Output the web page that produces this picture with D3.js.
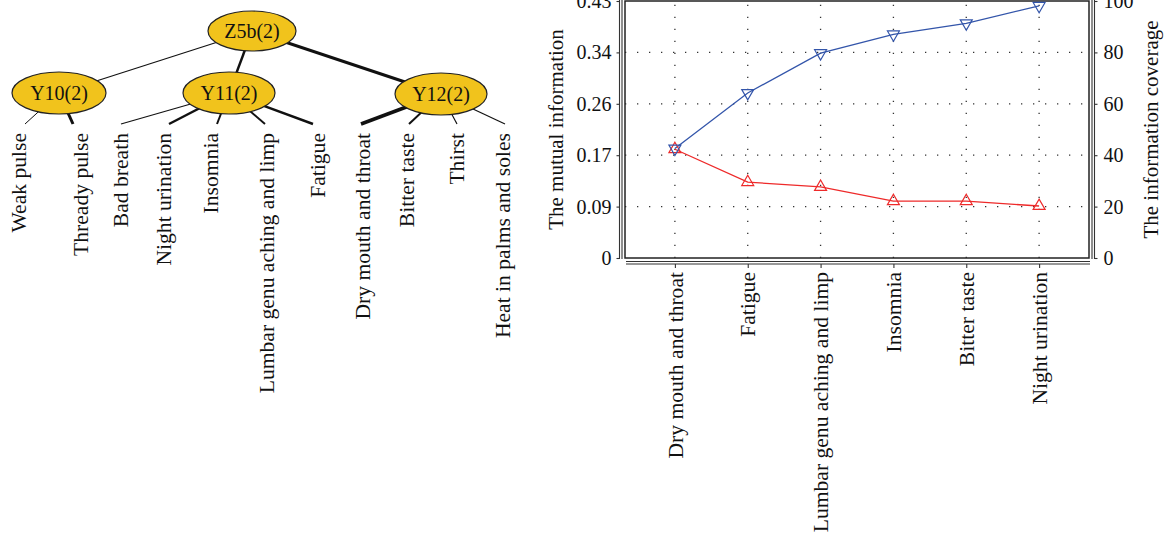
<!DOCTYPE html>
<html>
<head>
<meta charset="utf-8">
<script src="https://cdn.jsdelivr.net/npm/d3@7"></script>
<style>
  body { margin: 0; background: #fff; }
  svg text { font-family: "Liberation Serif", "DejaVu Serif", serif; fill: #111; }
</style>
</head>
<body>
<svg id="svg1" width="1164" height="534"></svg>
<script>
// --- data ---
const categories = ["Dry mouth and throat", "Fatigue", "Lumbar genu aching and limp",
                    "Insomnia", "Bitter taste", "Night urination"];
const mutualInfo = [0.182, 0.127, 0.119, 0.095, 0.095, 0.087];
const coverage = [42.6, 64.2, 79.7, 87.0, 91.3, 98.1];
const leftTicks = [0, 0.086, 0.172, 0.258, 0.344, 0.43];
const leftTickLabels = ["0", "0.09", "0.17", "0.26", "0.34", "0.43"];
const rightTicks = [0, 20, 40, 60, 80, 100];

// tree : latent variables and their manifest symptoms
const latentNodes = ["Z5b(2)", "Y10(2)", "Y11(2)", "Y12(2)"];
const latentParent = [null, "Z5b(2)", "Z5b(2)", "Z5b(2)"];
const leaves = ["Weak pulse", "Thready pulse", "Bad breath", "Night urination", "Insomnia",
                "Lumbar genu aching and limp", "Fatigue", "Dry mouth and throat",
                "Bitter taste", "Thirst", "Heat in palms and soles"];
const leafParent = ["Y10(2)", "Y10(2)", "Y11(2)", "Y11(2)", "Y11(2)", "Y11(2)", "Y11(2)",
                    "Y12(2)", "Y12(2)", "Y12(2)", "Y12(2)"];

// --- layout / style ---
const nodePos = {"Z5b(2)": [252, 31, 44, 20], "Y10(2)": [59, 93, 47, 21],
                 "Y11(2)": [229, 93, 46, 21], "Y12(2)": [441, 94, 46, 21]};
const edgeWidth = {"Y10(2)": 1.2, "Y11(2)": 2.4, "Y12(2)": 3,
    "Weak pulse": 1, "Thready pulse": 3, "Bad breath": 1.2, "Night urination": 2.5,
    "Insomnia": 2, "Lumbar genu aching and limp": 2, "Fatigue": 2.4,
    "Dry mouth and throat": 3.5, "Bitter taste": 2, "Thirst": 1.2, "Heat in palms and soles": 1.2};
const labelDx = [-6, 8, 0, -5, -6, 2, 5, 2, -2, 0, -2];
const fontSize = 20, labelSize = 21.6, titleSize = 21;

const svg = d3.select("#svg1");

// ---------- tree ----------
const tree = svg.append("g").attr("id", "tree");
const leafX = d3.scalePoint().domain(leaves).range([25, 505]);
const leafTop = 124, labelTop = 133;

// edges between latent variables
tree.selectAll(".ledge")
    .data(latentNodes.filter((d, i) => latentParent[i]))
    .enter().append("line")
    .attr("x1", d => nodePos[latentParent[latentNodes.indexOf(d)]][0])
    .attr("y1", d => nodePos[latentParent[latentNodes.indexOf(d)]][1])
    .attr("x2", d => nodePos[d][0])
    .attr("y2", d => nodePos[d][1])
    .attr("stroke", "#111")
    .attr("stroke-width", d => edgeWidth[d]);

// edges to symptoms
tree.selectAll(".sedge")
    .data(leaves).enter().append("line")
    .attr("x1", (d, i) => nodePos[leafParent[i]][0])
    .attr("y1", (d, i) => nodePos[leafParent[i]][1])
    .attr("x2", d => leafX(d))
    .attr("y2", leafTop)
    .attr("stroke", "#111")
    .attr("stroke-width", d => edgeWidth[d]);

const nodes = tree.selectAll(".node")
    .data(latentNodes).enter().append("g")
    .attr("transform", d => `translate(${nodePos[d][0]},${nodePos[d][1]})`);
nodes.append("ellipse")
    .attr("rx", d => nodePos[d][2])
    .attr("ry", d => nodePos[d][3])
    .attr("fill", "#F1C31C")
    .attr("stroke", "#222")
    .attr("stroke-width", 1.2);
nodes.append("text")
    .attr("text-anchor", "middle")
    .attr("dy", "0.35em")
    .style("font-size", fontSize + "px")
    .text(d => d);

tree.selectAll(".leaf")
    .data(leaves).enter().append("text")
    .attr("transform", (d, i) => `translate(${leafX(d) + labelDx[i] + 7},${labelTop}) rotate(-90)`)
    .attr("text-anchor", "end")
    .style("font-size", labelSize + "px")
    .text(d => d);

// ---------- line chart ----------
const L = 625, R = 1089, T = 1, B = 258;
const chart = svg.append("g").attr("id", "chart");

const x = d3.scalePoint().domain(categories).range([L, R]).padding(0.685);
const yL = d3.scaleLinear().domain([0, 0.43]).range([B, T]);
const yR = d3.scaleLinear().domain([0, 100]).range([B, T]);

// dotted grid
chart.selectAll(".hgrid")
    .data(leftTicks.slice(1, -1)).enter().append("line")
    .attr("x1", L).attr("x2", R)
    .attr("y1", d => yL(d)).attr("y2", d => yL(d))
    .attr("stroke", "#333").attr("stroke-width", 1.3)
    .attr("stroke-dasharray", "1.3,10.7");
chart.selectAll(".vgrid")
    .data(categories).enter().append("line")
    .attr("x1", d => x(d)).attr("x2", d => x(d))
    .attr("y1", B).attr("y2", T)
    .attr("stroke", "#333").attr("stroke-width", 1.3)
    .attr("stroke-dasharray", "1.3,10.7");

// frame
chart.append("rect")
    .attr("x", L).attr("y", T).attr("width", R - L).attr("height", B - T)
    .attr("fill", "none").attr("stroke", "#222").attr("stroke-width", 1.5);

// double axis lines
[619.5, 622].forEach(px => chart.append("line")
    .attr("x1", px).attr("x2", px).attr("y1", 0).attr("y2", B + 1)
    .attr("stroke", "#333").attr("stroke-width", 1.1));
[1092, 1094.5].forEach(px => chart.append("line")
    .attr("x1", px).attr("x2", px).attr("y1", 0).attr("y2", B + 1)
    .attr("stroke", "#333").attr("stroke-width", 1.1));
[261.5, 264].forEach(py => chart.append("line")
    .attr("x1", L + 1).attr("x2", R + 1).attr("y1", py).attr("y2", py)
    .attr("stroke", "#333").attr("stroke-width", 1.1));

// axes (ticks + labels)
const axisL = d3.axisLeft(yL).tickValues(leftTicks)
    .tickFormat((d, i) => leftTickLabels[i]).tickSize(3).tickPadding(5);
chart.append("g").attr("class", "yaxis").attr("transform", `translate(619.5,0)`).call(axisL);

const axisR = d3.axisRight(yR).tickValues(rightTicks).tickSize(3).tickPadding(6);
chart.append("g").attr("class", "yaxis").attr("transform", `translate(1094.5,0)`).call(axisR);

const axisB = d3.axisBottom(x).tickSize(4).tickPadding(0);
chart.append("g").attr("class", "xaxis").attr("transform", `translate(0,264)`).call(axisB);

chart.selectAll(".domain").remove();
chart.selectAll(".tick line").attr("stroke", "#333").attr("stroke-width", 1.1);
chart.selectAll(".tick text")
    .style("font-family", "'Liberation Serif', 'DejaVu Serif', serif")
    .attr("fill", "#111");
chart.selectAll(".yaxis .tick text").style("font-size", fontSize + "px");

// rotated category labels
chart.selectAll(".xaxis .tick text")
    .style("font-size", labelSize + "px")
    .attr("transform", "rotate(-90)")
    .attr("text-anchor", "end")
    .attr("x", -8)
    .attr("y", 0)
    .attr("dy", "0.33em");

// axis titles
chart.append("text")
    .attr("transform", `translate(563,${(T + B) / 2}) rotate(-90)`)
    .attr("text-anchor", "middle")
    .style("font-size", titleSize + "px")
    .text("The mutual information");
chart.append("text")
    .attr("transform", `translate(1158,${(T + B) / 2}) rotate(-90)`)
    .attr("text-anchor", "middle")
    .style("font-size", titleSize + "px")
    .text("The information coverage");

// series
const red = "#EE2A2A", blue = "#3355AA";
const lineMI = d3.line().x((d, i) => x(categories[i])).y(d => yL(d));
const lineCov = d3.line().x((d, i) => x(categories[i])).y(d => yR(d));

chart.append("path").attr("d", lineMI(mutualInfo))
    .attr("fill", "none").attr("stroke", red).attr("stroke-width", 1.3);
chart.append("path").attr("d", lineCov(coverage))
    .attr("fill", "none").attr("stroke", blue).attr("stroke-width", 1.3);

const tri = d3.symbol().type(d3.symbolTriangle).size(62);
chart.selectAll(".mkMI")
    .data(mutualInfo).enter().append("path")
    .attr("d", tri)
    .attr("transform", (d, i) => `translate(${x(categories[i])},${yL(d)})`)
    .attr("fill", "none").attr("stroke", red).attr("stroke-width", 1.2);
chart.selectAll(".mkCov")
    .data(coverage).enter().append("path")
    .attr("d", tri)
    .attr("transform", (d, i) => `translate(${x(categories[i])},${yR(d)}) rotate(180)`)
    .attr("fill", "none").attr("stroke", blue).attr("stroke-width", 1.2);
</script>
</body>
</html>
